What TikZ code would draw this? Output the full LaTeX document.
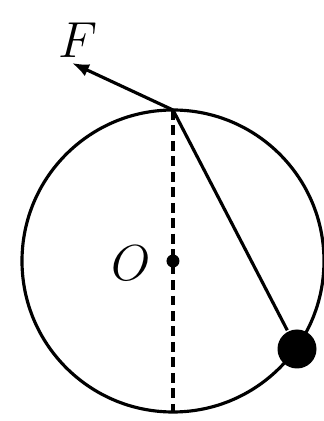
\documentclass[tikz,border=0pt]{standalone}
\usetikzlibrary{arrows.meta}
\tikzset{
  ballnode/.style={circle, fill=black, inner sep=0pt, minimum size=0.39cm},
  dotnode/.style={circle, fill=black, inner sep=0pt, minimum size=0.13cm},
  lbl/.style={font=\fontsize{14.5}{17}\selectfont},
  rope/.style={line width=0.9pt},
  axisline/.style={line width=0.9pt, dash pattern=on 2.8pt off 1.6pt}
}
\begin{document}
\begin{tikzpicture}[line width=0.9pt]
  \useasboundingbox (0,0) rectangle (3.24,4.21);
  % circle and its points
  \coordinate (ctr) at (1.73,1.60);
  \draw (ctr) circle (1.51);
  \coordinate (top) at (1.73,3.11);
  \coordinate (bot) at (1.73,0.09);
  \coordinate (ftip) at (0.72,3.58);
  \node[dotnode] (O) at (ctr) {};
  \node[ballnode] (ball) at (2.97,0.72) {};
  % vertical diameter, string, force
  \draw[axisline] (top) -- (bot);
  \draw[rope] (top) -- (ball);
  \draw[rope, -{Latex[length=0.17cm, width=0.13cm]}] (top) -- (ftip);
  % labels
  \node[lbl] (Flbl) at (0.78,3.81) {$F$};
  \node[lbl] (Olbl) at (1.31,1.58) {$O$};
\end{tikzpicture}
\end{document}
